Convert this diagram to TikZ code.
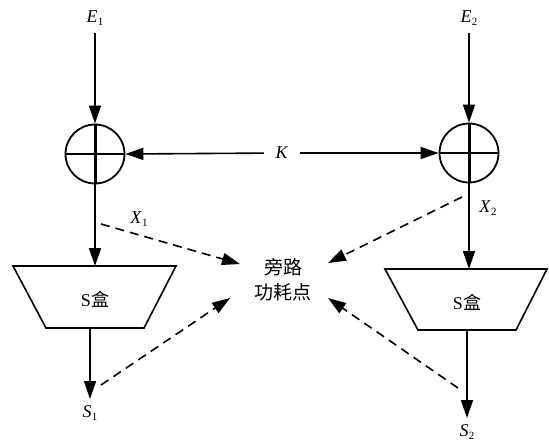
\documentclass[tikz,border=0pt]{standalone}
\usepackage{fontspec}
\setmainfont{Liberation Serif}
\newfontfamily\cjk{Noto Sans CJK SC}
\usetikzlibrary{arrows.meta}
\newcommand\varlbl[2]{\textit{#1}\kern0.3pt\raisebox{-3.5pt}{\fontsize{11}{11}\selectfont #2}}
\begin{document}
\begin{tikzpicture}[x=1pt,y=-1pt,line width=1.6pt,
  >={Triangle[length=18pt,width=12pt]},
  lbl/.style={inner sep=0pt,font=\fontsize{18}{18}\selectfont},
  xorc/.style={circle,draw,line width=1.8pt,minimum size=59pt,inner sep=0pt},
  sbox/.style={draw,line width=1.6pt,line join=miter},
  probe/.style={->,dash pattern=on 9pt off 6pt,line width=1.6pt},
  flow/.style={->,line width=1.6pt}]
\useasboundingbox (0,0) rectangle (549,445);

% inputs
\node[lbl] (E1) at (95,18) {\varlbl{E}{1}};
\node[lbl] (E2) at (469,18) {\varlbl{E}{2}};
\coordinate (E1s) at (95,33);
\coordinate (E2s) at (469,33);

% xor circles
\node[xorc] (c1) at (95,154) {};
\node[xorc] (c2) at (469,153) {};
\draw[line width=1.8pt] (c1.west) -- (c1.east);
\draw[line width=1.8pt] (c2.west) -- (c2.east);
\draw[line width=3pt] (c1.north) -- (c1.south);
\draw[line width=3pt] (c2.north) -- (c2.south);

\draw[flow] (E1s) -- (c1.north);
\draw[flow] (E2s) -- (c2.north);

% key
\node[lbl,inner xsep=11pt] (K) at (282,153) {\textit{K}};
\draw[flow] (K) -- (c1.east);
\draw[flow] (K) -- (c2.west);

% S boxes
\coordinate (s1t) at (95,266);
\coordinate (s1b) at (90,328);
\coordinate (s2t) at (469,269);
\coordinate (s2b) at (467,330);
\draw[sbox] (13,266) -- (176,266) -- (144,328) -- (46,328) -- cycle;
\draw[sbox] (385,269) -- (547,269) -- (516,330) -- (418,330) -- cycle;
\node[lbl] (sb1) at (95,299) {S{\cjk 盒}};
\node[lbl] (sb2) at (467,302) {S{\cjk 盒}};

\draw[flow] (c1.south) -- (s1t);
\draw[flow] (c2.south) -- (s2t);

% outputs
\coordinate (S1t) at (90,399);
\coordinate (S2t) at (467,418);
\node[lbl] (S1) at (90,413) {\varlbl{S}{1}};
\node[lbl] (S2) at (467,432) {\varlbl{S}{2}};
\draw[flow] (s1b) -- (S1t);
\draw[flow] (s2b) -- (S2t);

% labels X
\node[lbl] (X1) at (139,219) {\varlbl{X}{1}};
\node[lbl] (X2) at (488,208) {\varlbl{X}{2}};

% bypass point
\node[lbl,align=center,font=\cjk\fontsize{19}{25}\selectfont] (P) at (283,280) {旁路\\功耗点};

% probes
\coordinate (p1s) at (101,224);
\coordinate (p1e) at (240,264);
\coordinate (p2s) at (101,385);
\coordinate (p2e) at (230,298);
\coordinate (p3s) at (462,197);
\coordinate (p3e) at (328,263);
\coordinate (p4s) at (458,388);
\coordinate (p4e) at (328,298);
\draw[probe] (p1s) -- (p1e);
\draw[probe] (p2s) -- (p2e);
\draw[probe] (p3s) -- (p3e);
\draw[probe] (p4s) -- (p4e);
\end{tikzpicture}
\end{document}
